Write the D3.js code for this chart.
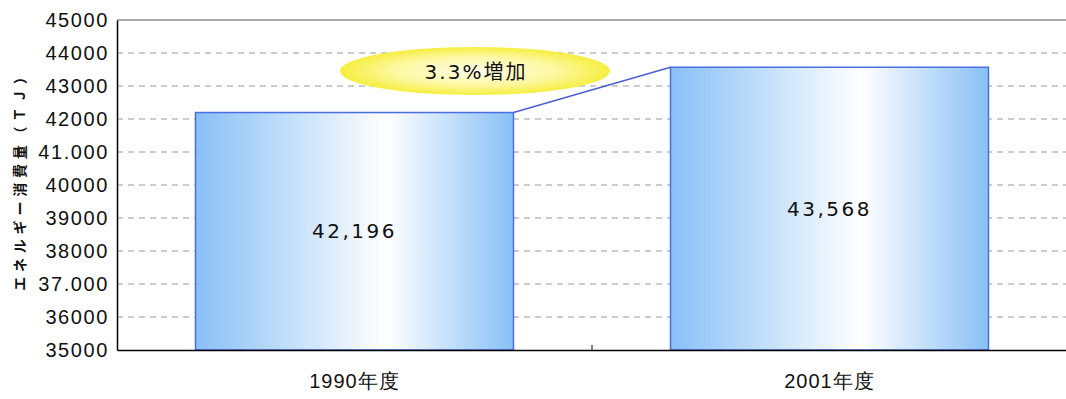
<!DOCTYPE html>
<html>
<head>
<meta charset="utf-8">
<script src="https://cdn.jsdelivr.net/npm/d3@7"></script>
<style>
body { margin: 0; background: #fff; }
svg { font-family: "DejaVu Sans", "Noto Sans CJK JP", sans-serif; }
</style>
</head>
<body>
<svg id="chart"></svg>
<script>
var categories = ["1990年度", "2001年度"];
var values = [42196, 43568];
var valueLabels = ["42,196", "43,568"];
var tickValues = [35000, 36000, 37000, 38000, 39000, 40000, 41000, 42000, 43000, 44000, 45000];
var tickLabels = ["35000", "36000", "37.000", "38000", "39000", "40000", "41.000", "42000", "43000", "44000", "45000"];
var noteText = "3.3%増加";
var yTitle = "エネルギー消費量（ＴＪ）";

var svg = d3.select("#chart").attr("width", 1066).attr("height", 399);

var plotLeft = 117, plotTop = 20, plotRight = 1067, plotBottom = 350;

var xScale = d3.scaleBand().domain(categories).range([plotLeft, plotRight]).paddingInner(0).paddingOuter(0);
var yScale = d3.scaleLinear().domain([35000, 45000]).range([plotBottom, plotTop]);

var defs = svg.append("defs");
var grad = defs.append("linearGradient").attr("id", "barGrad")
    .attr("x1", "0%").attr("x2", "100%").attr("y1", "0%").attr("y2", "0%");
grad.append("stop").attr("offset", "0%").attr("stop-color", "#88c0f6");
grad.append("stop").attr("offset", "60%").attr("stop-color", "#ffffff");
grad.append("stop").attr("offset", "100%").attr("stop-color", "#88c0f6");

var rg = defs.append("radialGradient").attr("id", "noteGrad");
rg.append("stop").attr("offset", "0%").attr("stop-color", "#fffde8");
rg.append("stop").attr("offset", "60%").attr("stop-color", "#fdf8a0");
rg.append("stop").attr("offset", "100%").attr("stop-color", "#f6ee40");

// grid lines
svg.append("g").selectAll("line")
    .data(tickValues.slice(1, -1))
    .enter().append("line")
    .attr("x1", plotLeft).attr("x2", plotRight)
    .attr("y1", function(d) { return yScale(d); })
    .attr("y2", function(d) { return yScale(d); })
    .attr("stroke", "#999")
    .attr("stroke-width", 1.2)
    .attr("stroke-dasharray", "6,5");

// top border
svg.append("line")
    .attr("x1", plotLeft).attr("x2", plotRight)
    .attr("y1", yScale(45000)).attr("y2", yScale(45000))
    .attr("stroke", "#555").attr("stroke-width", 1);

// y axis
var yAxis = svg.append("g")
    .attr("transform", "translate(" + plotLeft + ",0)")
    .call(d3.axisLeft(yScale).tickValues(tickValues)
        .tickFormat(function(d, i) { return tickLabels[i]; })
        .tickSize(0).tickPadding(8));
yAxis.select(".domain").attr("stroke", "#000").attr("stroke-width", 1.5);
yAxis.selectAll("text")
    .attr("font-size", 20)
    .attr("letter-spacing", "1.6px")
    .attr("fill", "#111");

// bars
var barW = 318;
svg.append("g").selectAll("rect")
    .data(values)
    .enter().append("rect")
    .attr("x", function(d, i) { return xScale(categories[i]) + xScale.bandwidth() / 2 - barW / 2; })
    .attr("y", function(d) { return yScale(d); })
    .attr("width", barW)
    .attr("height", function(d) { return plotBottom - yScale(d); })
    .attr("fill", "url(#barGrad)")
    .attr("stroke", "#4b6fe0")
    .attr("stroke-width", 1.5);

// connector line
svg.append("line")
    .attr("x1", xScale(categories[0]) + xScale.bandwidth() / 2 + barW / 2)
    .attr("y1", yScale(values[0]))
    .attr("x2", xScale(categories[1]) + xScale.bandwidth() / 2 - barW / 2)
    .attr("y2", yScale(values[1]))
    .attr("stroke", "#4a5fd0").attr("stroke-width", 1.5);

// value labels
svg.append("g").selectAll("text")
    .data(values)
    .enter().append("text")
    .attr("x", function(d, i) { return xScale(categories[i]) + xScale.bandwidth() / 2; })
    .attr("y", function(d) { return (yScale(d) + plotBottom) / 2; })
    .attr("dy", "0.35em")
    .attr("text-anchor", "middle")
    .attr("font-size", 20)
    .attr("letter-spacing", "2.5px")
    .attr("fill", "#111")
    .text(function(d, i) { return valueLabels[i]; });

// x axis
var xAxis = svg.append("g")
    .attr("transform", "translate(0," + plotBottom + ")")
    .call(d3.axisBottom(xScale).tickSize(0).tickPadding(24));
xAxis.select(".domain").attr("stroke", "#000").attr("stroke-width", 1.5);
xAxis.selectAll("text")
    .attr("font-size", 20)
    .attr("letter-spacing", "1px")
    .attr("fill", "#111");
svg.append("line")
    .attr("x1", xScale(categories[1])).attr("x2", xScale(categories[1]))
    .attr("y1", plotBottom).attr("y2", plotBottom - 5)
    .attr("stroke", "#000").attr("stroke-width", 1);

// note ellipse
svg.append("ellipse")
    .attr("cx", 475).attr("cy", 71).attr("rx", 135).attr("ry", 24)
    .attr("fill", "url(#noteGrad)");
svg.append("text")
    .attr("x", 476).attr("y", 72).attr("dy", "0.35em")
    .attr("text-anchor", "middle")
    .attr("font-size", 20)
    .attr("letter-spacing", "2px")
    .attr("fill", "#111")
    .text(noteText);

// y title
svg.append("text")
    .attr("transform", "translate(25," + 178 + ") rotate(-90)")
    .attr("text-anchor", "middle")
    .attr("font-size", 14)
    .attr("font-weight", "bold")
    .attr("letter-spacing", "4.8px")
    .attr("fill", "#111")
    .style("font-family", "'Noto Sans CJK JP', sans-serif")
    .text(yTitle);
</script>
</body>
</html>
